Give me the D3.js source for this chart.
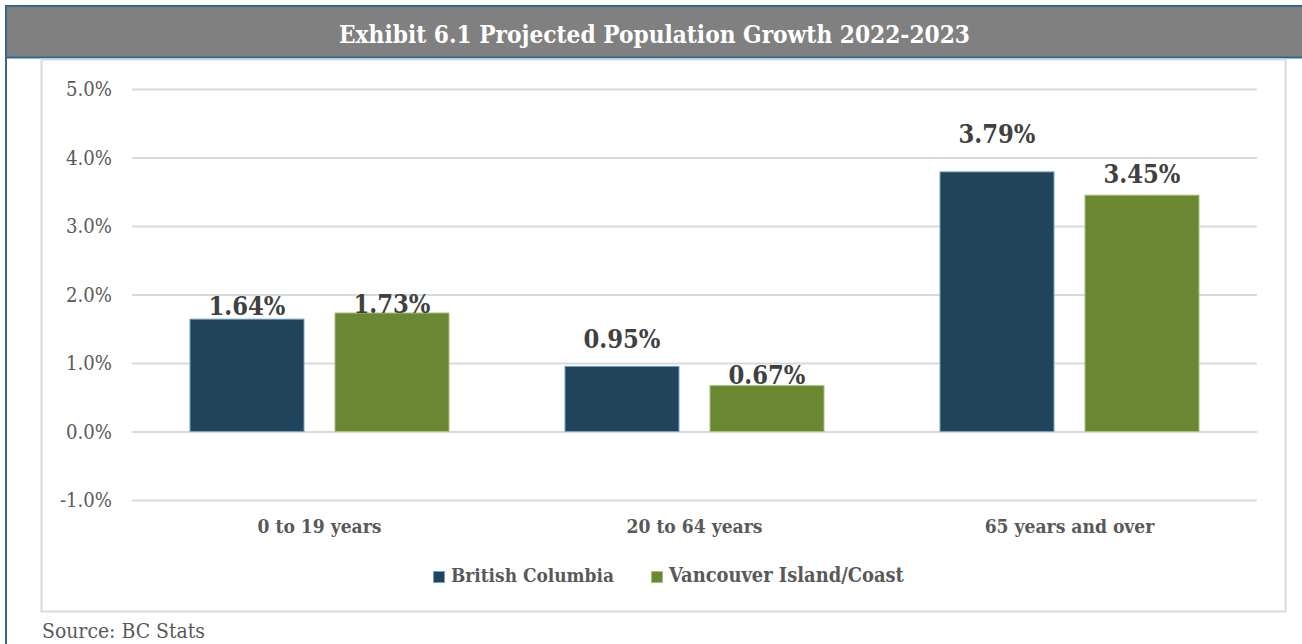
<!DOCTYPE html>
<html><head><meta charset="utf-8">
<script src="https://cdn.jsdelivr.net/npm/d3@7"></script>
<style>
html,body{margin:0;padding:0;background:#fff;}
svg{display:block;}
text{font-family:"DejaVu Serif Condensed","DejaVu Serif",serif;font-stretch:condensed;}
</style></head>
<body>
<svg id="chart" width="1302" height="644"></svg>
<script>
const title = "Exhibit 6.1 Projected Population Growth 2022-2023";
const categories = ["0 to 19 years", "20 to 64 years", "65 years and over"];
const seriesNames = ["British Columbia", "Vancouver Island/Coast"];
const britishColumbia = [1.64, 0.95, 3.79];
const vancouverIsland = [1.73, 0.67, 3.45];
const yTicks = [-1, 0, 1, 2, 3, 4, 5];
const source = "Source: BC Stats";

// label lift above the bar top (px), as placed in the original
const labelLift = [[4.5, 18, 29], [0, 2, 12]];

const series = [britishColumbia, vancouverIsland];
const fills = ["#21445b", "#6a8731"];
const strokes = ["#6fa3c7", "#a9bf7e"];

const svg = d3.select("#chart");

function fit(sel, w) {
  const n = sel.node();
  let fs = parseFloat(sel.attr("font-size"));
  const len = n.getComputedTextLength();
  sel.attr("font-size", (fs * w / len).toFixed(2));
}

// outer frame
svg.append("rect").attr("x", 7).attr("y", 7).attr("width", 1295).attr("height", 50).attr("fill", "#808080");
svg.append("line").attr("x1", 5).attr("x2", 1302).attr("y1", 6).attr("y2", 6).attr("stroke", "#31688c").attr("stroke-width", 2);
svg.append("line").attr("x1", 5).attr("x2", 1302).attr("y1", 57.5).attr("y2", 57.5).attr("stroke", "#31688c").attr("stroke-width", 2);
svg.append("line").attr("x1", 6).attr("x2", 6).attr("y1", 5).attr("y2", 644).attr("stroke", "#31688c").attr("stroke-width", 2);

const t = svg.append("text").attr("x", 654.5).attr("y", 43).attr("text-anchor", "middle")
  .attr("font-size", 20).attr("font-weight", "bold").attr("fill", "#ffffff").text(title);
fit(t, 631);

// chart box
svg.append("rect").attr("x", 41.5).attr("y", 59.5).attr("width", 1244).attr("height", 552)
  .attr("fill", "#fff").attr("stroke", "#d9d9d9").attr("stroke-width", 2);

const y = d3.scaleLinear().domain([-1, 5]).range([500, 89]);
const x0 = d3.scaleBand().domain(categories).range([132, 1257]).padding(0);
const x1 = d3.scaleBand().domain(seriesNames).range([57.5, 317.5]).paddingInner(0.207).paddingOuter(0);

// gridlines
const yAxis = d3.axisLeft(y).tickValues(yTicks).tickSize(-(1257 - 132))
  .tickFormat(d => d3.format(".1f")(d).replace("\u2212", "-") + "%");
const ga = svg.append("g").attr("transform", "translate(132,0)").call(yAxis);
ga.select(".domain").remove();
ga.selectAll(".tick line").attr("stroke", "#d9d9d9").attr("stroke-width", 2);
ga.selectAll(".tick text").attr("x", -20).attr("dy", "0.34em").attr("fill", "#595959")
  .attr("font-size", 17).attr("font-family", null);
ga.selectAll(".tick text").filter(d => d === 4).each(function(){ fit(d3.select(this), 46); });
const yfs = ga.selectAll(".tick text").filter(d => d === 4).attr("font-size");
ga.selectAll(".tick text").attr("font-size", yfs);
ga.attr("font-family", null).attr("font-size", null);

// bars
const groups = svg.append("g").selectAll("g").data(categories).join("g")
  .attr("transform", d => `translate(${x0(d)},0)`);
series.forEach((vals, si) => {
  groups.append("rect")
    .attr("x", x1(seriesNames[si]) + 0.5)
    .attr("width", x1.bandwidth() - 1)
    .attr("y", (d, i) => y(vals[i]))
    .attr("height", (d, i) => y(0) - y(vals[i]))
    .attr("fill", fills[si]).attr("stroke", strokes[si]).attr("stroke-width", 1);
});

// data labels
let labelFs = null;
series.forEach((vals, si) => {
  groups.append("text")
    .attr("x", x1(seriesNames[si]) + x1.bandwidth() / 2)
    .attr("y", (d, i) => y(vals[i]) - labelLift[si][i])
    .attr("text-anchor", "middle").attr("font-weight", "bold").attr("fill", "#404040")
    .attr("font-size", 22)
    .text((d, i) => vals[i].toFixed(2) + "%")
    .each(function(d, i){ if (si === 0 && i === 0) { fit(d3.select(this), 77); labelFs = d3.select(this).attr("font-size"); } });
});
groups.selectAll("text").attr("font-size", labelFs);

// x labels
const xl = svg.append("g").selectAll("text").data(categories).join("text")
  .attr("x", d => x0(d) + x0.bandwidth() / 2).attr("y", 533)
  .attr("text-anchor", "middle").attr("font-weight", "bold").attr("fill", "#595959")
  .attr("font-size", 16).text(d => d);
fit(xl.filter((d, i) => i === 0), 124);
xl.attr("font-size", xl.filter((d, i) => i === 0).attr("font-size"));

// legend
const legX = [433, 651];
const legW = [163, 235];
seriesNames.forEach((s, i) => {
  svg.append("rect").attr("x", legX[i] + 0.5).attr("y", 571.5).attr("width", 11).attr("height", 11)
    .attr("fill", fills[i]).attr("stroke", strokes[i]).attr("stroke-width", 1);
  const lt = svg.append("text").attr("x", legX[i] + 18).attr("y", 582)
    .attr("font-weight", "bold").attr("fill", "#595959").attr("font-size", 16).text(s);
  fit(lt, legW[i]);
});

// source
const st = svg.append("text").attr("x", 42).attr("y", 638).attr("fill", "#595959")
  .attr("font-size", 17).text(source);
fit(st, 163);
</script>
</body></html>
